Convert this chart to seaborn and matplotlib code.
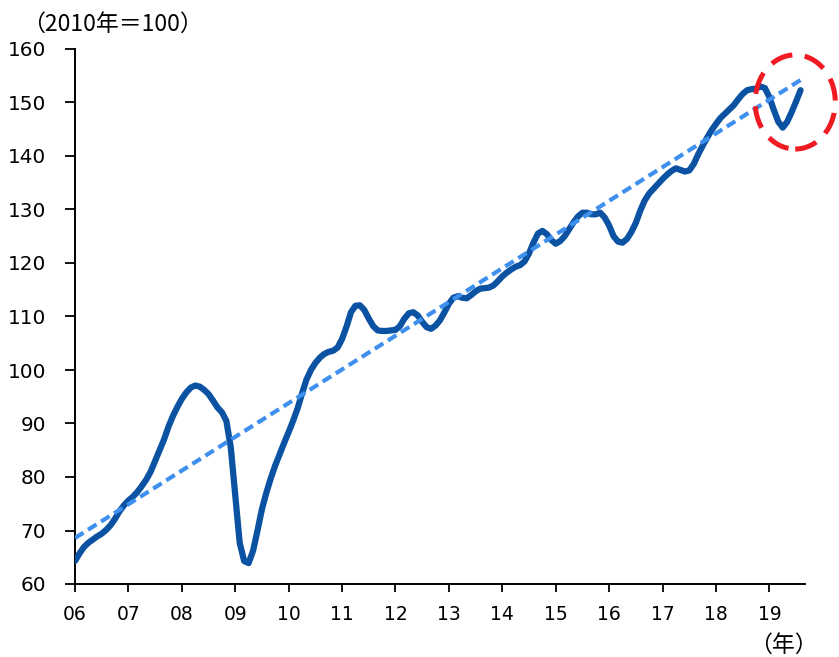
import numpy as np
import pandas as pd
import seaborn as sns
import matplotlib
matplotlib.use("Agg")
import matplotlib.pyplot as plt
from matplotlib.patches import Ellipse

# Monthly index (2010 = 100), January 2006 - August 2019
v2006 = [64.3, 65.7, 66.9, 67.7, 68.3, 68.9, 69.4, 70.1, 71.0, 72.2, 73.6, 74.7]
v2007 = [75.6, 76.3, 77.2, 78.3, 79.5, 81.0, 83.0, 85.0, 87.0, 89.4, 91.4, 93.1]
v2008 = [94.6, 95.8, 96.7, 97.1, 96.9, 96.3, 95.5, 94.3, 93.0, 92.1, 90.5, 85.5]
v2009 = [76.5, 67.7, 64.3, 63.9, 66.2, 70.0, 74.0, 77.1, 79.8, 82.2, 84.3, 86.4]
v2010 = [88.4, 90.5, 92.8, 95.6, 98.2, 100.0, 101.3, 102.3, 103.0, 103.4, 103.6, 104.2]
v2011 = [105.8, 108.1, 110.8, 112.0, 112.1, 111.2, 109.6, 108.2, 107.4, 107.3, 107.3, 107.4]
v2012 = [107.5, 108.2, 109.6, 110.6, 110.8, 110.2, 109.0, 108.0, 107.7, 108.3, 109.3, 110.8]
v2013 = [112.4, 113.5, 113.8, 113.5, 113.4, 114.0, 114.7, 115.2, 115.3, 115.4, 115.8, 116.6]
v2014 = [117.5, 118.2, 118.8, 119.3, 119.6, 120.3, 121.8, 123.8, 125.5, 126.0, 125.4, 124.3]
v2015 = [123.6, 124.1, 125.0, 126.3, 127.6, 128.7, 129.4, 129.4, 129.1, 129.1, 129.4, 128.5]
v2016 = [127.0, 125.0, 124.0, 123.8, 124.5, 125.8, 127.5, 129.8, 131.7, 133.0, 133.9, 134.8]
v2017 = [135.7, 136.5, 137.2, 137.7, 137.4, 137.1, 137.3, 138.5, 140.3, 141.9, 143.4, 144.8]
v2018 = [146.0, 147.1, 147.9, 148.7, 149.5, 150.6, 151.6, 152.3, 152.5, 152.6, 153.0, 152.7]
v2019 = [151.0, 148.6, 146.4, 145.3, 146.4, 148.2, 150.2, 152.3]

# trend line values at the first and last month
trend_ends = [68.6, 154.2]

year_labels = ["06", "07", "08", "09", "10", "11", "12", "13", "14", "15", "16", "17", "18", "19"]
y_ticks = [60, 70, 80, 90, 100, 110, 120, 130, 140, 150, 160]

values = (v2006 + v2007 + v2008 + v2009 + v2010 + v2011 + v2012 + v2013
          + v2014 + v2015 + v2016 + v2017 + v2018 + v2019)
df = pd.DataFrame({"month": np.arange(len(values)), "index": values})
trend_df = pd.DataFrame({"month": [0, len(values) - 1], "trend": trend_ends})

sns.set_style("ticks")
plt.rcParams["font.family"] = ["DejaVu Sans", "Noto Sans CJK JP"]
plt.rcParams["text.color"] = "black"
plt.rcParams["xtick.color"] = "black"
plt.rcParams["ytick.color"] = "black"
plt.rcParams["xtick.labelcolor"] = "black"
plt.rcParams["ytick.labelcolor"] = "black"

fig = plt.figure(figsize=(8.39, 6.57), dpi=100)
ax = fig.add_axes([75 / 839, 1 - 584 / 657, 730 / 839, 535 / 657])

main_color = "#0B53A2"
trend_color = "#3F8FEF"

sns.lineplot(data=df, x="month", y="index", ax=ax, color=main_color,
             linewidth=4.5, solid_capstyle="round", solid_joinstyle="round",
             zorder=3)
sns.lineplot(data=trend_df, x="month", y="trend", ax=ax, color=trend_color,
             linewidth=3.0, linestyle=(0, (2.4, 1.3)), zorder=4)

ax.set_xlim(0, 164)
ax.set_ylim(60, 160)
ax.set_xticks(np.arange(len(year_labels)) * 12)
ax.set_xticklabels(year_labels, fontsize=13.5)
ax.set_yticks(y_ticks)
ax.set_yticklabels([str(t) for t in y_ticks], fontsize=14.4)
ax.tick_params(axis="both", direction="out", width=1.3, color="black")
ax.tick_params(axis="x", length=6, pad=9)
ax.tick_params(axis="y", length=7, pad=14)
ax.set_xlabel("")
ax.set_ylabel("")
ax.grid(False)
sns.despine(ax=ax)
for side in ("left", "bottom"):
    ax.spines[side].set_linewidth(1.4)
    ax.spines[side].set_color("black")

# highlight of the latest months
ell = Ellipse((161.8, 150.1), width=18.0, height=17.6, fill=False,
              edgecolor="#F01A22", linewidth=3.6, linestyle=(0, (4.5, 2.5)),
              clip_on=False, zorder=5)
ax.add_patch(ell)

cjk = ["Noto Sans CJK JP", "DejaVu Sans"]
fig.text(22 / 839, 1 - 24 / 657, "（2010年＝100）", fontsize=16.5,
         family=cjk, ha="left", va="center")
fig.text(818 / 839, 1 - 645 / 657, "（年）", fontsize=16.5,
         family=cjk, ha="right", va="center")

fig.savefig("out.png", dpi=100)
